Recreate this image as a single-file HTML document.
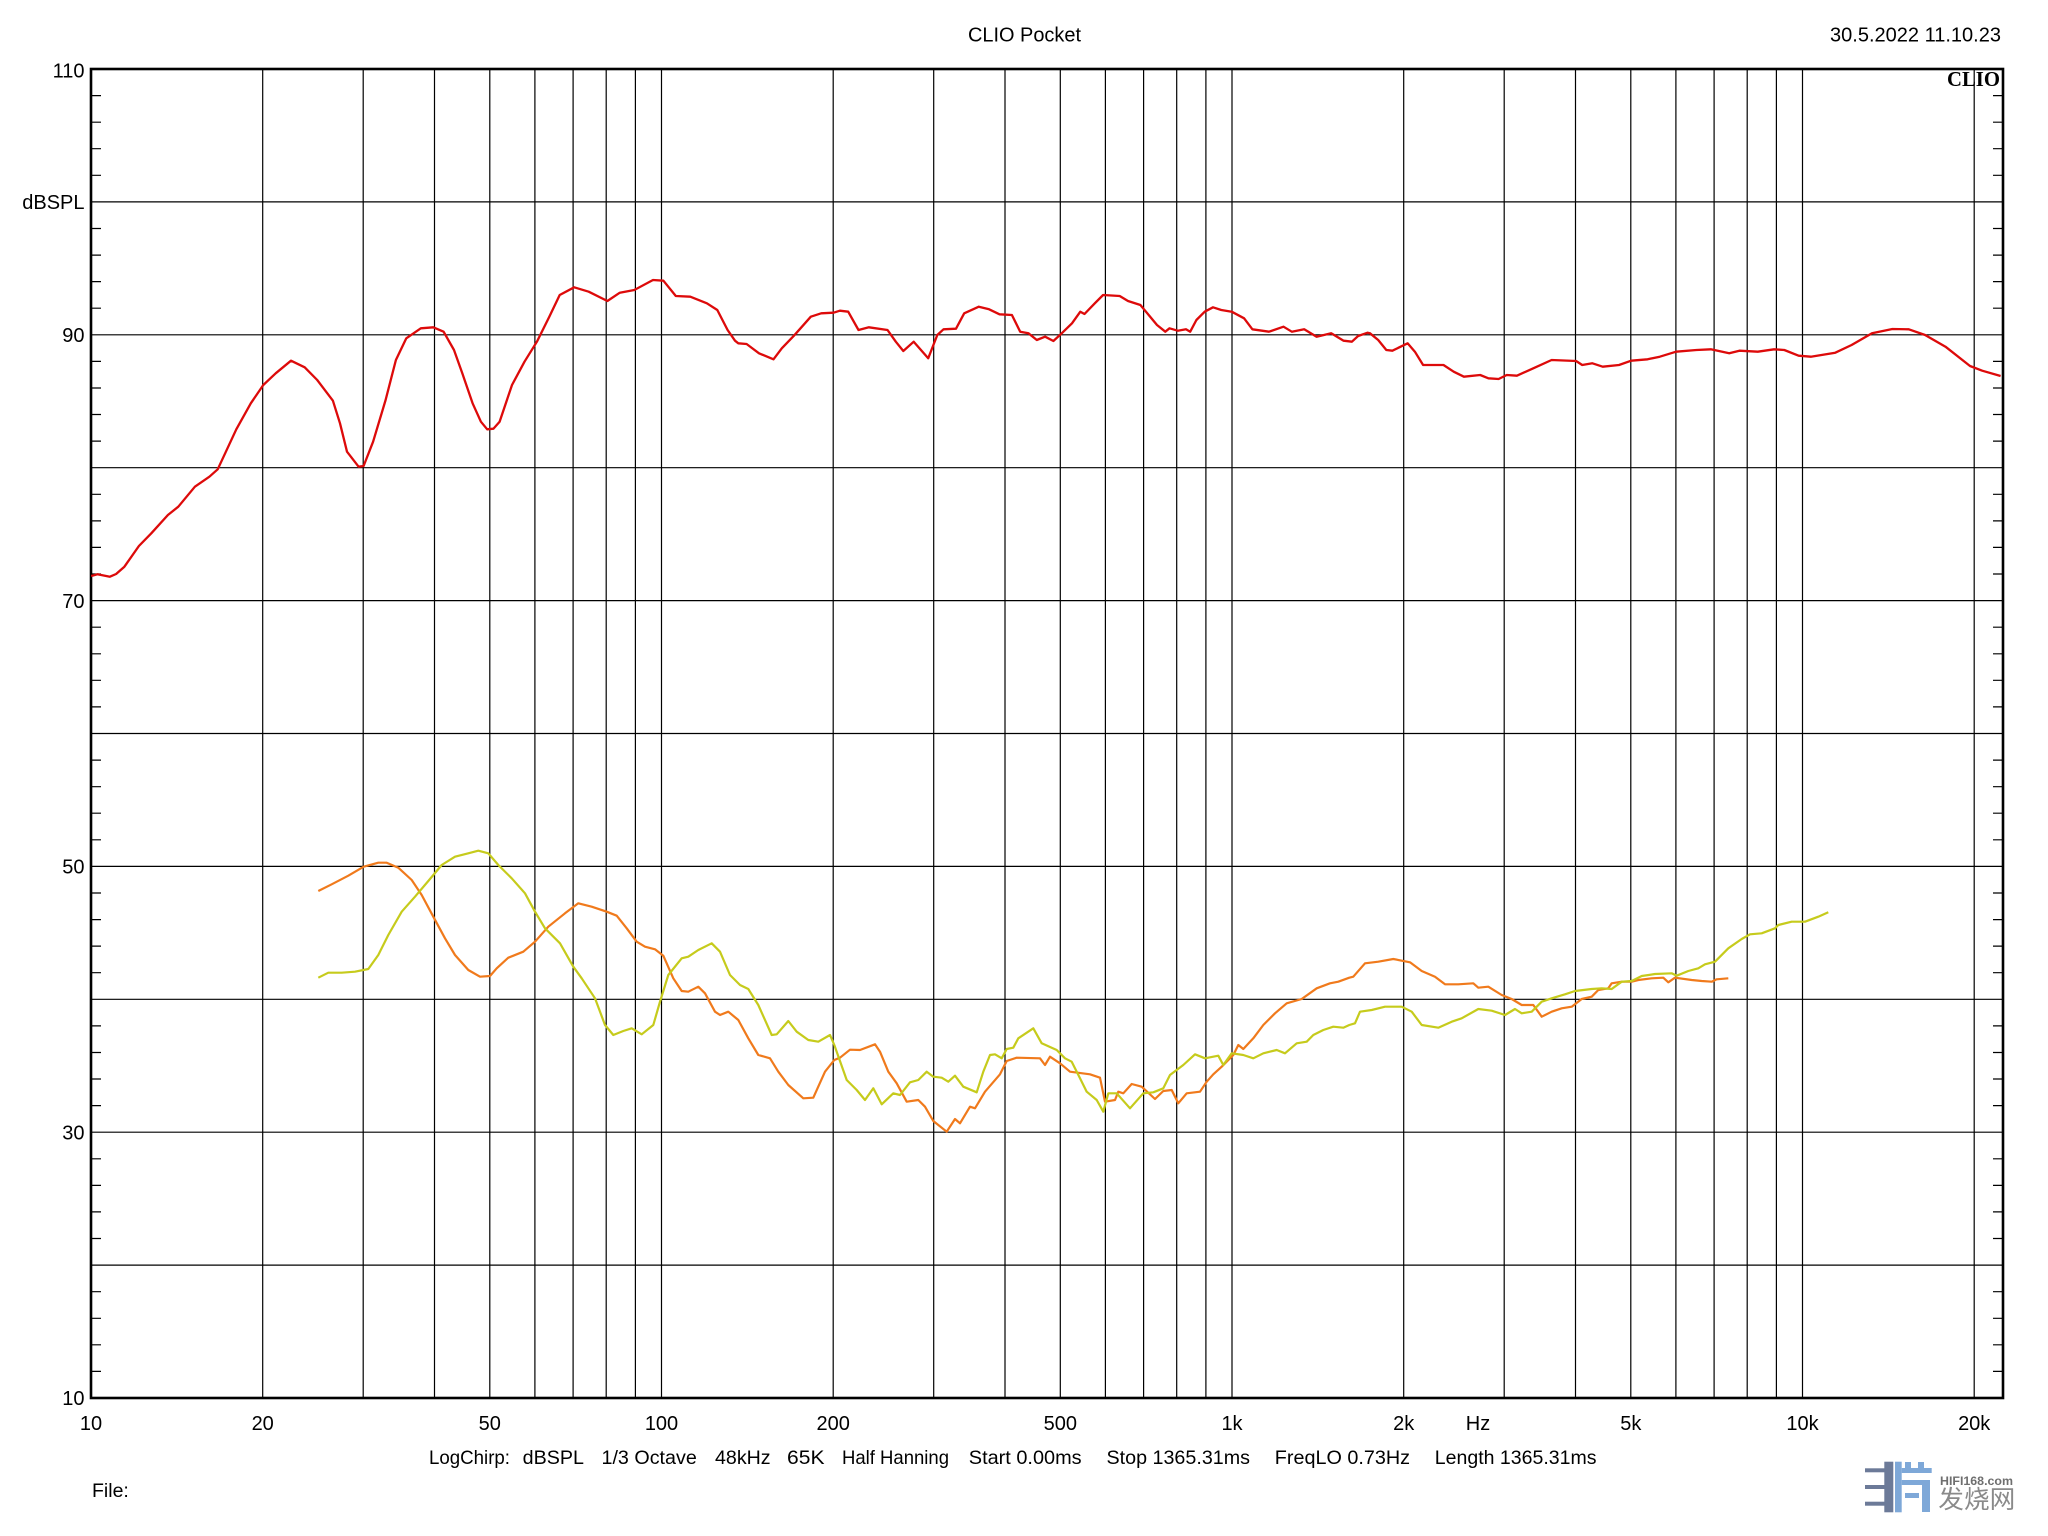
<!DOCTYPE html>
<html>
<head>
<meta charset="utf-8">
<style>
html,body{margin:0;padding:0;background:#fff;}
svg{display:block;}
text{font-family:"Liberation Sans","Noto Sans CJK SC",sans-serif;fill:#000;}
</style>
</head>
<body>
<svg width="2048" height="1536" viewBox="0 0 2048 1536" xmlns="http://www.w3.org/2000/svg">
<rect x="0" y="0" width="2048" height="1536" fill="#fff"/>

<!-- vertical grid -->
<g stroke="#000" stroke-width="1.2" fill="none">
<line x1="262.7" y1="69" x2="262.7" y2="1398"/>
<line x1="363.2" y1="69" x2="363.2" y2="1398"/>
<line x1="434.5" y1="69" x2="434.5" y2="1398"/>
<line x1="489.8" y1="69" x2="489.8" y2="1398"/>
<line x1="534.9" y1="69" x2="534.9" y2="1398"/>
<line x1="573.1" y1="69" x2="573.1" y2="1398"/>
<line x1="606.2" y1="69" x2="606.2" y2="1398"/>
<line x1="635.4" y1="69" x2="635.4" y2="1398"/>
<line x1="661.5" y1="69" x2="661.5" y2="1398"/>
<line x1="833.2" y1="69" x2="833.2" y2="1398"/>
<line x1="933.7" y1="69" x2="933.7" y2="1398"/>
<line x1="1005" y1="69" x2="1005" y2="1398"/>
<line x1="1060.3" y1="69" x2="1060.3" y2="1398"/>
<line x1="1105.4" y1="69" x2="1105.4" y2="1398"/>
<line x1="1143.6" y1="69" x2="1143.6" y2="1398"/>
<line x1="1176.7" y1="69" x2="1176.7" y2="1398"/>
<line x1="1205.9" y1="69" x2="1205.9" y2="1398"/>
<line x1="1232" y1="69" x2="1232" y2="1398"/>
<line x1="1403.7" y1="69" x2="1403.7" y2="1398"/>
<line x1="1504.2" y1="69" x2="1504.2" y2="1398"/>
<line x1="1575.5" y1="69" x2="1575.5" y2="1398"/>
<line x1="1630.8" y1="69" x2="1630.8" y2="1398"/>
<line x1="1675.9" y1="69" x2="1675.9" y2="1398"/>
<line x1="1714.1" y1="69" x2="1714.1" y2="1398"/>
<line x1="1747.2" y1="69" x2="1747.2" y2="1398"/>
<line x1="1776.4" y1="69" x2="1776.4" y2="1398"/>
<line x1="1802.5" y1="69" x2="1802.5" y2="1398"/>
<line x1="1974.2" y1="69" x2="1974.2" y2="1398"/>
</g>

<!-- horizontal grid -->
<g stroke="#000" stroke-width="1.2" fill="none">
<line x1="91" y1="201.9" x2="2003" y2="201.9"/>
<line x1="91" y1="334.8" x2="2003" y2="334.8"/>
<line x1="91" y1="467.7" x2="2003" y2="467.7"/>
<line x1="91" y1="600.6" x2="2003" y2="600.6"/>
<line x1="91" y1="733.5" x2="2003" y2="733.5"/>
<line x1="91" y1="866.4" x2="2003" y2="866.4"/>
<line x1="91" y1="999.3" x2="2003" y2="999.3"/>
<line x1="91" y1="1132.2" x2="2003" y2="1132.2"/>
<line x1="91" y1="1265.1" x2="2003" y2="1265.1"/>
</g>

<!-- minor ticks every 2 dB -->
<g stroke="#000" stroke-width="1.2">
<path d="M91 95.6h10M91 122.2h10M91 148.7h10M91 175.3h10
M91 228.5h10M91 255.1h10M91 281.6h10M91 308.2h10
M91 361.4h10M91 388h10M91 414.5h10M91 441.1h10
M91 494.3h10M91 520.9h10M91 547.4h10M91 574h10
M91 627.2h10M91 653.8h10M91 680.3h10M91 706.9h10
M91 760.1h10M91 786.7h10M91 813.2h10M91 839.8h10
M91 893h10M91 919.6h10M91 946.1h10M91 972.7h10
M91 1025.9h10M91 1052.5h10M91 1079h10M91 1105.6h10
M91 1158.8h10M91 1185.4h10M91 1211.9h10M91 1238.5h10
M91 1291.7h10M91 1318.3h10M91 1344.8h10M91 1371.4h10"/>
<path d="M1993 95.6h10M1993 122.2h10M1993 148.7h10M1993 175.3h10
M1993 228.5h10M1993 255.1h10M1993 281.6h10M1993 308.2h10
M1993 361.4h10M1993 388h10M1993 414.5h10M1993 441.1h10
M1993 494.3h10M1993 520.9h10M1993 547.4h10M1993 574h10
M1993 627.2h10M1993 653.8h10M1993 680.3h10M1993 706.9h10
M1993 760.1h10M1993 786.7h10M1993 813.2h10M1993 839.8h10
M1993 893h10M1993 919.6h10M1993 946.1h10M1993 972.7h10
M1993 1025.9h10M1993 1052.5h10M1993 1079h10M1993 1105.6h10
M1993 1158.8h10M1993 1185.4h10M1993 1211.9h10M1993 1238.5h10
M1993 1291.7h10M1993 1318.3h10M1993 1344.8h10M1993 1371.4h10"/>
</g>

<!-- frame -->
<rect x="91" y="69" width="1912" height="1329" fill="none" stroke="#000" stroke-width="2.6"/>

<!-- red curve -->
<polyline fill="none" stroke="#dd0a0a" stroke-width="2.3" stroke-linejoin="round" points="
91.2,576 97.4,574.3 109.9,576.7 116.1,574 124.4,566.7 138.9,546 151.3,533.3 167.9,515 178.3,506.7 194.9,486.7 209.4,476.7 217.7,469.3 236.3,429.3 250.8,403.3 263.3,385 275.7,373.3 291,360.7 304.7,367.3 317.2,380 332.9,400.7 340,423.3 347,451.7 358.6,466.7 363.6,466 373.1,441.7 385.6,400 395.9,360 406.3,338.3 420.8,328.3 433.3,327.3 443.6,331.7 454,350 462.3,373.3 472.6,403.3 480.9,421.7 487.2,429.3 493.4,428.7 499.6,421.7 512,385 524.5,361.7 536.9,341.7 549.3,316.7 559.7,295 574.2,287.3 588.7,291.7 607.4,301 619.8,292.7 634.3,290 653,280 663.4,280.7 675.8,296 690.3,296.7 706.9,303.3 717.3,310 727.6,330 735,340.7
738.3,343.3 746.6,344 759,353.3 773.5,359.3 781.8,348.3 794.3,335.3 810.8,316.7 821.2,313.3 833.6,312.7 839.9,310.7 848.2,311.7 858.5,330 868.9,327.3 887.5,330 895.8,341.7 903.3,351 913.7,341.7 928.2,358.3 937.3,335 943.5,329.3 956,328.7 964.2,313.3 978.8,306.7 989.1,309.3 999.5,314.3 1011.9,315 1020.2,331.7 1028.5,333.3 1036.8,340 1045.1,336.7 1053.4,341 1061.7,333.3 1072,323.3 1080.3,311.7 1084.5,314 1094.8,303.3 1103.1,295 1119.7,296 1128,301 1140.4,305 1148.7,315 1157,325 1165.3,331.7 1169.5,328.3 1177.8,330.7 1186,329.3 1190.2,331.7 1196.4,320 1204.7,311.7 1213,307.3 1221.3,310 1231.7,311.7 1244.1,318.3 1252.4,329.3 1269,331.7 1283.5,326.7 1291.8,331.7 1304.2,329.3 1316.6,336.7 1331.2,333.3 1343.6,340.7 1351.9,341.7 1358.1,336 1367.6,332.7
1370,333.3 1378.2,340 1386.3,350 1392.4,350.7 1407.6,343.3 1414.9,351.7 1423.1,365 1443.5,365 1453.7,371.7 1463.9,376.7 1480.2,375 1488.4,378.3 1498.6,379 1506.7,375 1516.9,375.7 1533.3,368.3 1551.6,360 1576.1,361 1582.2,365 1592.4,363.3 1602.7,366.7 1619,365 1631.2,360.7 1647.6,359.3 1659.8,356.7 1676.1,351.7 1696.5,350 1710.8,349.3 1729.2,353.3 1739.4,350.7 1757.8,351.7 1774.1,349.3 1784.3,350 1798.6,355.7 1810.8,356.7 1835.3,352.7 1851.6,345 1872,333.3 1892.4,329 1908.8,329.3 1925.1,335 1945.5,346.7 1970,366 1982.2,370.7 2000.6,376"/>

<!-- orange curve -->
<polyline fill="none" stroke="#f07a1c" stroke-width="2.2" stroke-linejoin="round" points="
318.3,891 331.7,884.3 348.3,875.7 363.7,866.7 378.3,862.7 386.7,862.7 398.3,867.7 411.7,880 421.7,895 433.3,916.7 445,938.3 455,955 468.3,970 480,976.7 490,976 496.7,968.3 508.3,957.7 523.3,951.7 535,941.7 548.3,926.7 565,913.3 578.3,903.3 591.7,906.7 606.7,911.7 616.7,915.7 626.7,928.3 636.7,941.7 645,946.7 655,949.3 663.3,955.7 673.3,978.3 681.7,991 688.3,991.7 698.3,986.7 705,993.3 715,1011.7 720,1015 728.3,1011.7 738.3,1020 748.3,1038.3 758.3,1055 770,1058.3 778.3,1071.7 788.3,1085 803.3,1098.3 813.3,1097.7 825,1071.7 834.3,1060
840,1057.7 850,1049.7 860,1050 875,1044.3 880,1051.7 888.3,1071.7 896.7,1083.3 906.7,1101.7 918.3,1100 925,1106.7 933.3,1121 946.7,1131.7 955,1119 960,1123.3 970,1106.7 975,1108.3 985,1091.7 1000,1074.3 1006.7,1061 1016.7,1057.7 1040,1058.3 1045,1065 1050,1056.7 1060,1063.3 1070,1071.7 1090,1074.3 1100,1077.7 1105,1101.7 1115,1100 1118.3,1091.7 1123.3,1093.3 1131.7,1084 1141.7,1086.7 1155,1099 1163.3,1091 1171.7,1090 1178.3,1103.3 1186.7,1093.3 1200,1091.7 1206.7,1081.7 1213.3,1074.3 1221.7,1066.7 1233.3,1055 1238.3,1045 1243.3,1049 1253.3,1038.3 1263.3,1025 1275,1013.3 1286.7,1003.3 1301.7,999 1316.7,988.3 1330,983.3 1338.3,981.7 1349.3,977.7
1353.3,976.7 1365,963.3 1378.3,961.7 1393.3,959 1410,962.3 1421.7,971 1435,976.7 1445,984.3 1458.3,984.3 1473.3,983.3 1478.3,987.7 1488.3,986.7 1501.7,995 1511.7,999 1521.7,1005 1533.3,1005 1541.7,1016.7 1551.7,1011.7 1561.7,1008.3 1571.7,1006.7 1581.7,999 1591.7,996.7 1598.3,990 1608.3,988.3 1611.7,983.3 1621.7,981.7 1631.7,981.7 1638.3,980 1651.7,978.3 1663.3,977.7 1668.3,982.3 1675,977.7 1691.7,980 1701.7,981 1711.7,981.7 1716.7,979.3 1728.3,978.3"/>

<!-- yellow curve -->
<polyline fill="none" stroke="#c6cb1c" stroke-width="2.2" stroke-linejoin="round" points="
318.3,977.7 328.3,972.7 341.7,972.7 355,971.7 368.3,969 378.3,955 388.3,935 401.7,911.7 415,896.7 428.3,881 441.7,865 455,856.7 468.3,853.3 478.3,850.7 488.3,853.3 498.3,865 511.7,878.3 525,893.3 535,911.7 545,928.3 560,943.3 573.3,966.7 581.7,978.3 595,998.3 605,1025 613.3,1035 623.3,1031 631.7,1028.3 641.7,1034.3 653.3,1025 660,1001.7 668.3,975 681.7,958.3 688.3,956.7 698.3,950 711.7,943.3 720,951.7 730,975 740,985 748.3,989 758.3,1005 771.7,1035 776.7,1034.3 788.3,1021 796.7,1031.7 808.3,1040 818.3,1041.7 830,1035 834.3,1045
836.7,1051.7 846.7,1080 856.7,1090 865,1100 873.3,1088.3 881.7,1104.3 893.3,1093.3 900,1095 910,1082.3 918.3,1080 926.7,1071.7 933.3,1076.7 941.7,1077.7 948.3,1081.7 955,1075.7 963.3,1086.7 976.7,1092.3 983.3,1071.7 990,1055 995,1054.3 1001.7,1058.3 1006.7,1049 1013.3,1047.7 1018.3,1038.3 1033.3,1028.3 1041.7,1043.3 1056.7,1050 1065,1058.3 1071.7,1061.7 1080,1078.3 1086.7,1091.7 1096.7,1100 1103.3,1111.7 1108.3,1093.3 1116.7,1093.3 1130,1108.3 1143.3,1093.3 1153.3,1092.3 1163.3,1088.3 1170,1075 1183.3,1065 1195,1054.3 1205,1058.3 1218.3,1055.7 1223.3,1065 1231.7,1053.3 1243.3,1055 1253.3,1058.3 1263.3,1053.3 1276.7,1050 1285,1053.3 1296.7,1043.3 1306.7,1041.7 1313.3,1035 1323.3,1030 1333.3,1026.7 1343.3,1027.7 1349.3,1025
1355,1023.3 1360,1011.7 1371.7,1010 1385,1006.7 1401.7,1006.7 1411.7,1011.7 1421.7,1025 1438.3,1027.7 1451.7,1021.7 1461.7,1018.3 1478.3,1009 1491.7,1010.7 1505,1015 1515,1009 1521.7,1013.3 1531.7,1011.7 1541.7,1001.7 1551.7,998.3 1565,994.3 1575,991 1591.7,989 1601.7,988.3 1611.7,989 1621.7,981.7 1631.7,981 1641.7,976 1655,974 1671.7,973.3 1676.7,975.7 1688.3,971 1698.3,968.3 1705,964.3 1715,961.7 1728.3,948.3 1741.7,939 1750,934.3 1761.7,933.3 1775,928.3 1778.3,925 1791.7,921.7 1805,921.7 1818.3,916.7 1828.3,912.3"/>

<!-- title & date -->
<text x="968" y="41.5" font-size="20" textLength="113" lengthAdjust="spacingAndGlyphs">CLIO Pocket</text>
<text x="1830" y="41.5" font-size="20" textLength="171" lengthAdjust="spacingAndGlyphs">30.5.2022 11.10.23</text>

<!-- CLIO logo -->
<text x="1947" y="86" font-size="21" font-weight="bold" style="font-family:'Liberation Serif',serif;" textLength="53" lengthAdjust="spacingAndGlyphs">CLIO</text>

<!-- Y labels -->
<g font-size="20" text-anchor="end">
<text x="84.5" y="77.3">110</text>
<text x="84.5" y="209.2">dBSPL</text>
<text x="84.5" y="342">90</text>
<text x="84.5" y="607.8">70</text>
<text x="84.5" y="873.6">50</text>
<text x="84.5" y="1139.4">30</text>
<text x="84.5" y="1405.2">10</text>
</g>

<!-- X labels -->
<g font-size="20" text-anchor="middle">
<text x="91" y="1430">10</text>
<text x="262.7" y="1430">20</text>
<text x="489.8" y="1430">50</text>
<text x="661.5" y="1430">100</text>
<text x="833.2" y="1430">200</text>
<text x="1060.3" y="1430">500</text>
<text x="1232" y="1430">1k</text>
<text x="1403.7" y="1430">2k</text>
<text x="1478" y="1430">Hz</text>
<text x="1630.8" y="1430">5k</text>
<text x="1802.5" y="1430">10k</text>
<text x="1974.2" y="1430">20k</text>
</g>

<!-- bottom info line -->
<g font-size="19.5">
<text x="429" y="1464" textLength="81" lengthAdjust="spacingAndGlyphs">LogChirp:</text>
<text x="522.7" y="1464" textLength="61.3" lengthAdjust="spacingAndGlyphs">dBSPL</text>
<text x="601.5" y="1464" textLength="95.3" lengthAdjust="spacingAndGlyphs">1/3 Octave</text>
<text x="715" y="1464" textLength="55.6" lengthAdjust="spacingAndGlyphs">48kHz</text>
<text x="787" y="1464" textLength="37.5" lengthAdjust="spacingAndGlyphs">65K</text>
<text x="842" y="1464" textLength="107" lengthAdjust="spacingAndGlyphs">Half Hanning</text>
<text x="968.8" y="1464" textLength="112.8" lengthAdjust="spacingAndGlyphs">Start 0.00ms</text>
<text x="1106.5" y="1464" textLength="143.5" lengthAdjust="spacingAndGlyphs">Stop 1365.31ms</text>
<text x="1274.8" y="1464" textLength="135.2" lengthAdjust="spacingAndGlyphs">FreqLO 0.73Hz</text>
<text x="1434.8" y="1464" textLength="161.7" lengthAdjust="spacingAndGlyphs">Length 1365.31ms</text>
</g>
<text x="92" y="1497" font-size="19.5">File:</text>

<!-- watermark -->
<g>
<rect x="1865" y="1468.3" width="20" height="4" fill="#6c7a98"/>
<rect x="1865" y="1485" width="20" height="4" fill="#6c7a98"/>
<rect x="1865" y="1501.7" width="20" height="4" fill="#6c7a98"/>
<rect x="1884.3" y="1461.7" width="9" height="50.6" fill="#6c7a98"/>
<rect x="1895" y="1461.7" width="6.7" height="50.6" fill="#7ea8d8"/>
<rect x="1905" y="1462" width="6" height="9" fill="#7ea8d8"/>
<rect x="1918" y="1462" width="6" height="9" fill="#7ea8d8"/>
<rect x="1901.7" y="1468" width="30" height="5" fill="#7ea8d8"/>
<rect x="1901.7" y="1480" width="28" height="5" fill="#7ea8d8"/>
<rect x="1922" y="1480" width="8" height="32" fill="#7ea8d8"/>
<rect x="1905" y="1493" width="14" height="5" fill="#7ea8d8"/>
<text x="1940" y="1485" font-size="11.6" font-weight="bold" fill="#6f6f6f" style="fill:#6f6f6f" textLength="73" lengthAdjust="spacingAndGlyphs">HIFI168.com</text>
<text x="1938.3" y="1508" font-size="25" fill="#8a8a8a" style="fill:#8a8a8a;font-family:'Liberation Sans','Noto Sans CJK SC',sans-serif;" textLength="77" lengthAdjust="spacingAndGlyphs">发烧网</text>
</g>
</svg>
</body>
</html>
